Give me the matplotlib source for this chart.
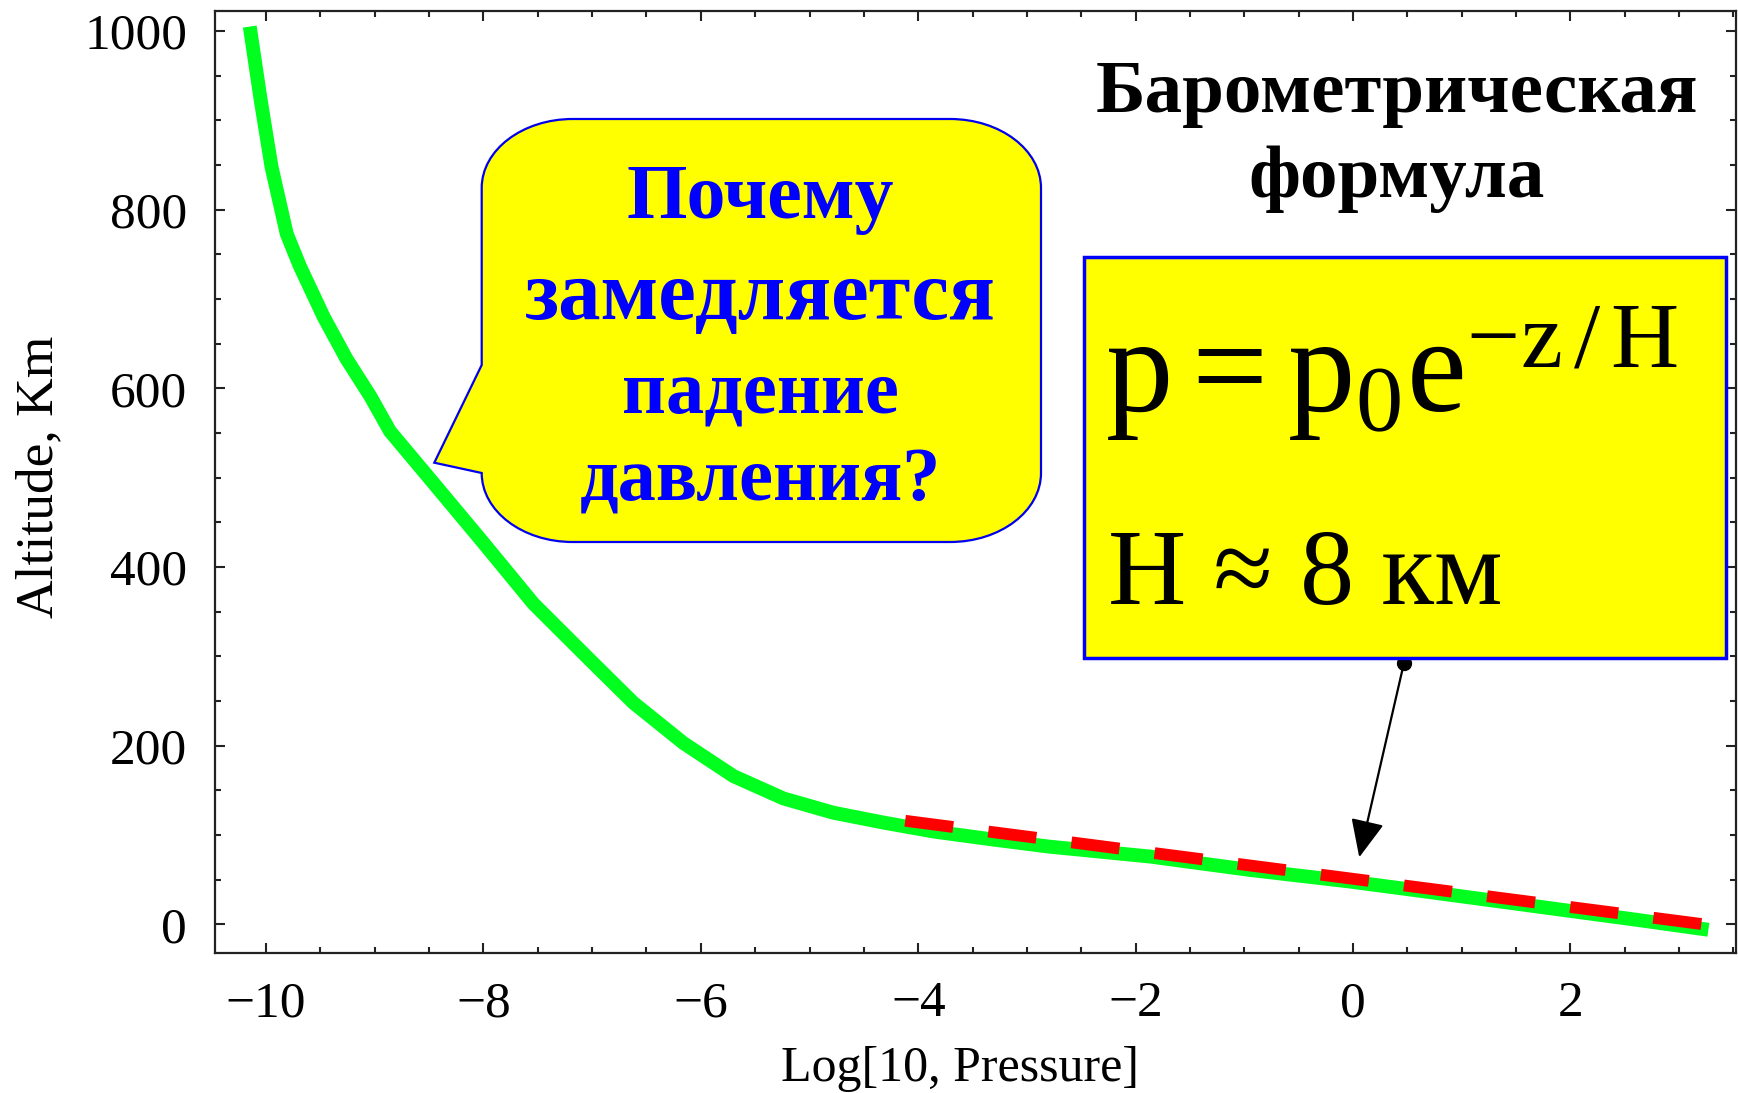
import matplotlib
matplotlib.use("Agg")
import matplotlib.pyplot as plt
from matplotlib.path import Path
from matplotlib.patches import PathPatch, Rectangle, FancyArrowPatch
from matplotlib.ticker import MultipleLocator

plt.rcParams["font.family"] = ["Liberation Serif", "DejaVu Serif"]
plt.rcParams["mathtext.fontset"] = "custom"
plt.rcParams["mathtext.rm"] = "Liberation Serif"
plt.rcParams["mathtext.it"] = "Liberation Serif:italic"

# altitude profile
log_p = [-10.15, -10.05, -9.95, -9.81, -9.69, -9.47, -9.26, -9.04, -8.86,
         -8.46, -8.00, -7.54, -7.02, -6.62, -6.16, -5.70, -5.24, -4.78, -4.32,
         -3.86, -3.31, -2.79, -1.87, -0.95, -0.03, 0.78, 1.70, 2.62, 3.27]
altitude = [1005, 923, 848, 773, 737, 680, 633, 591, 552,
            494, 427, 359, 296, 248, 203, 166, 141, 125, 114,
            104, 95, 87, 76, 61, 48, 35, 20, 5, -6]

# barometric fit (dashed)
fit_x = [-4.12, 3.21]
fit_y = [116, 0.4]

x_ticks = [-10, -8, -6, -4, -2, 0, 2]
y_ticks = [0, 200, 400, 600, 800, 1000]

bubble_lines = ["Почему", "замедляется", "падение", "давления?"]
bubble_sizes = [56, 61, 55, 55]
title_lines = ["Барометрическая", "формула"]

W, H = 1738, 1093
fig = plt.figure(figsize=(W / 100, H / 100), dpi=100)
ax = fig.add_axes([215 / W, 1 - 953 / H, (1736 - 215) / W, (953 - 11) / H])

ax.plot(log_p, altitude, color="#00ff1e", lw=10, solid_capstyle="butt",
        solid_joinstyle="round", zorder=2)
ax.plot(fit_x, fit_y, color="red", lw=8.5, linestyle=(0, (4.1, 3.0)), zorder=3)

ax.set_xlim(-10.47, 3.524)
ax.set_ylim(-32, 1022.4)
ax.set_xticks(x_ticks)
ax.set_yticks(y_ticks)
ax.xaxis.set_minor_locator(MultipleLocator(0.5))
ax.yaxis.set_minor_locator(MultipleLocator(50))
ax.tick_params(which="both", direction="in", top=True, right=True,
               color="#222222", width=1.5)
ax.tick_params(which="major", length=7.5, labelsize=37, pad=20)
ax.tick_params(which="minor", length=4.5)
for s in ax.spines.values():
    s.set_linewidth(1.6)
    s.set_color("#222222")

ax.set_xlabel("Log[10, Pressure]", fontsize=36)
ax.xaxis.set_label_coords(0.49, -0.098)
ax.set_ylabel("Altitude, Km", fontsize=38.5)
ax.yaxis.set_label_coords(-0.1, 0.505)

tr = fig.dpi_scale_trans


def P(x, y):
    return (x / 100, (H - y) / 100)


# speech bubble (pixel coordinates, top-left origin)
L, R, T, B = 481.7, 1041, 119, 542
rx, ry = 91, 69
k = 0.5523
verts = [
    P(L + rx, T), P(R - rx, T),
    P(R - rx + k * rx, T), P(R, T + ry - k * ry), P(R, T + ry),
    P(R, B - ry),
    P(R, B - ry + k * ry), P(R - rx + k * rx, B), P(R - rx, B),
    P(L + rx, B),
    P(L + rx - k * rx, B), P(L, B - ry + k * ry), P(L, B - ry),
    P(434.3, 462.7), P(L, 365), P(L, T + ry),
    P(L, T + ry - k * ry), P(L + rx - k * rx, T), P(L + rx, T),
    P(L + rx, T),
]
codes = [Path.MOVETO, Path.LINETO,
         Path.CURVE4, Path.CURVE4, Path.CURVE4,
         Path.LINETO,
         Path.CURVE4, Path.CURVE4, Path.CURVE4,
         Path.LINETO,
         Path.CURVE4, Path.CURVE4, Path.CURVE4,
         Path.LINETO, Path.LINETO, Path.LINETO,
         Path.CURVE4, Path.CURVE4, Path.CURVE4,
         Path.CLOSEPOLY]
fig.patches.append(PathPatch(Path(verts, codes), transform=tr, facecolor="yellow",
                             edgecolor="#0000ee", lw=1.6, zorder=5))

for line, size, base in zip(bubble_lines, bubble_sizes, [218, 319, 412, 501]):
    fig.text(*P(760, base), line, transform=tr, ha="center", va="baseline",
             fontsize=size, fontweight="bold", color="#0000ff", zorder=6)

for line, base in zip(title_lines, [112, 197]):
    fig.text(*P(1397, base), line, transform=tr, ha="center", va="baseline",
             fontsize=54, fontweight="bold", color="black", zorder=6)

# formula box
fig.patches.append(Rectangle(P(1084, 658), 642 / 100, 401 / 100, transform=tr,
                             facecolor="yellow", edgecolor="#0000ff", lw=2.5, zorder=5))
fig.text(*P(1105, 412), r"$\mathrm{p = p_0 e^{-z\,/\,H}}$", transform=tr,
         ha="left", va="baseline", fontsize=97, color="black", zorder=6)
fig.text(*P(1108, 604), "H ≈ 8 км", transform=tr,
         ha="left", va="baseline", fontsize=78, color="black", zorder=6)

# pointer from the box to the fitted line
ax.plot([0.469], [292.6], "o", color="black", ms=10, clip_on=False, zorder=7)
arrow = FancyArrowPatch((0.469, 292.6), (0.052, 72.1),
                        arrowstyle="-|>,head_length=0.9,head_width=0.4",
                        mutation_scale=26, color="black", lw=1.6, zorder=7)
ax.add_patch(arrow)

fig.savefig("out.png", dpi=100)
